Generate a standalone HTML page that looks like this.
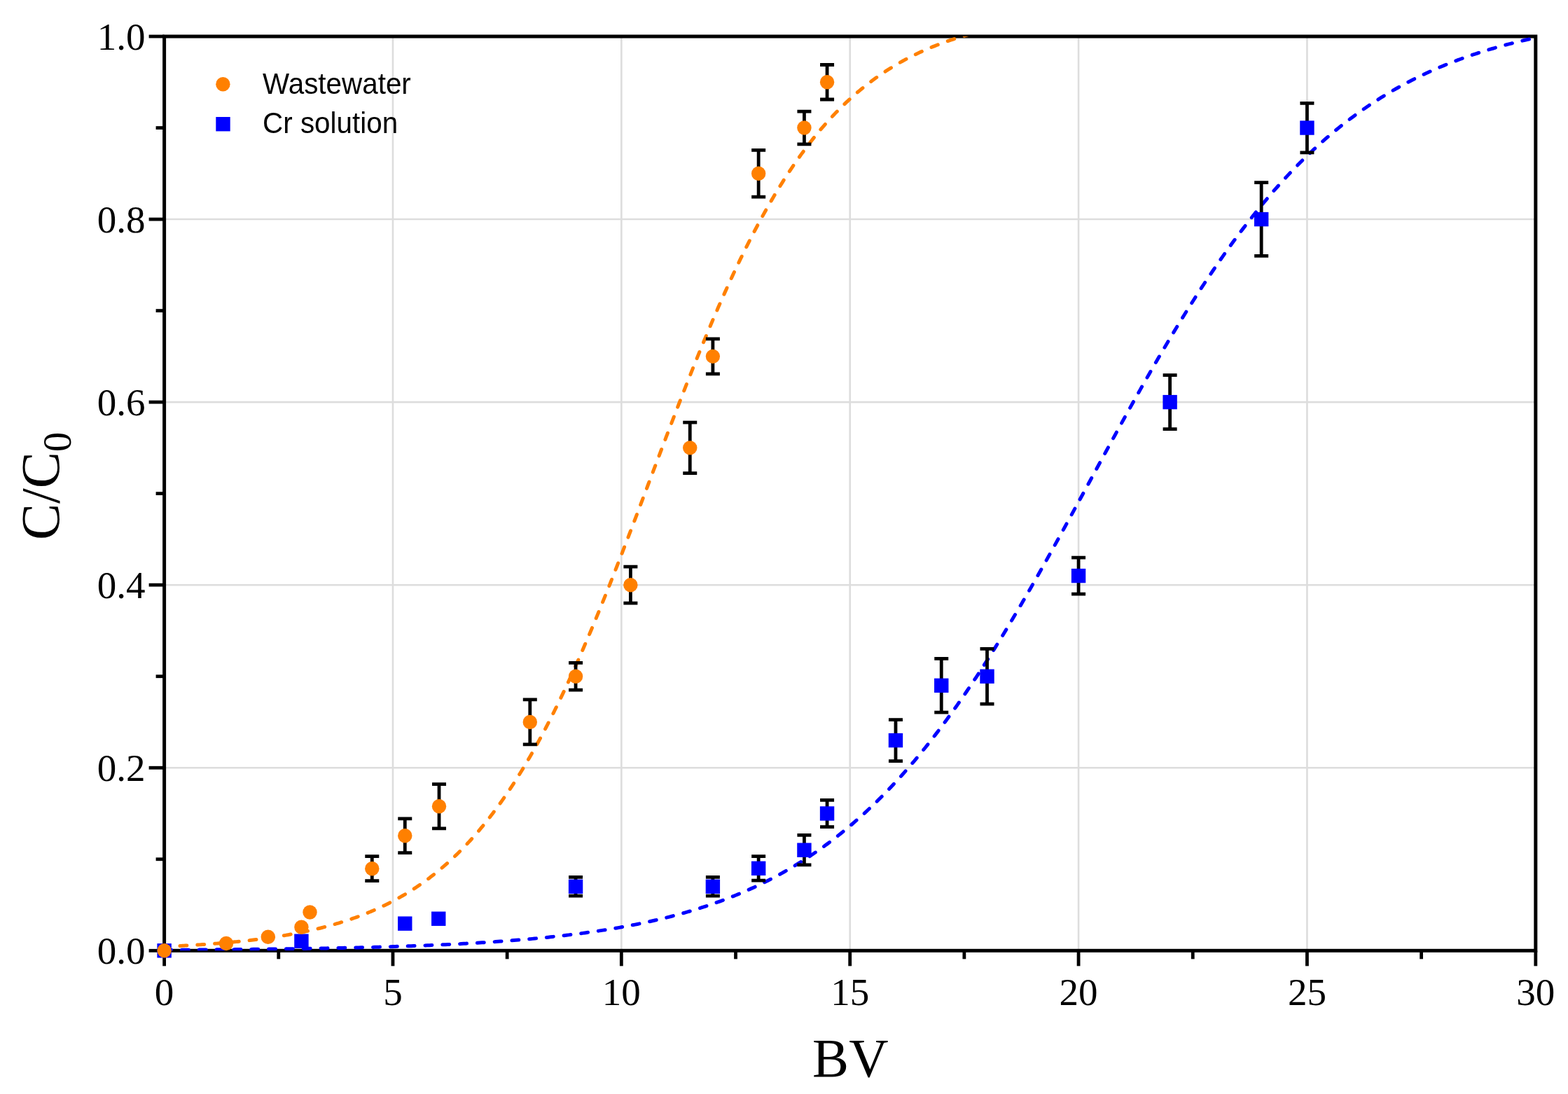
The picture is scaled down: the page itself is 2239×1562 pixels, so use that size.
<!DOCTYPE html>
<html lang="en"><head><meta charset="utf-8"><title>Breakthrough curves</title>
<style>
html,body{margin:0;padding:0;background:#fff;}
body{width:2239px;height:1562px;overflow:hidden;}
svg{display:block;}
.serif{font-family:"Liberation Serif","Times New Roman",Times,serif;}
.sans{font-family:"Liberation Sans",Arial,Helvetica,sans-serif;}
</style></head><body>
<svg width="2239" height="1562" viewBox="0 0 2239 1562">
<rect x="0" y="0" width="2239" height="1562" fill="#ffffff"/>
<defs><clipPath id="plot"><rect x="234.60" y="52.00" width="1958.20" height="1305.30"/></clipPath></defs>
<g stroke="#dddddd" stroke-width="2.60" fill="none">
<line x1="560.97" y1="52.00" x2="560.97" y2="1357.30"/>
<line x1="887.33" y1="52.00" x2="887.33" y2="1357.30"/>
<line x1="1213.70" y1="52.00" x2="1213.70" y2="1357.30"/>
<line x1="1540.07" y1="52.00" x2="1540.07" y2="1357.30"/>
<line x1="1866.43" y1="52.00" x2="1866.43" y2="1357.30"/>
<line x1="234.60" y1="1096.24" x2="2192.80" y2="1096.24"/>
<line x1="234.60" y1="835.18" x2="2192.80" y2="835.18"/>
<line x1="234.60" y1="574.12" x2="2192.80" y2="574.12"/>
<line x1="234.60" y1="313.06" x2="2192.80" y2="313.06"/>
</g>
<g stroke="#000" fill="none" stroke-linecap="butt">
<rect x="234.60" y="52.00" width="1958.20" height="1305.30" stroke-width="5.00"/>
<line x1="234.60" y1="1357.30" x2="234.60" y2="1379.30" stroke-width="4.80"/>
<line x1="397.78" y1="1357.30" x2="397.78" y2="1369.30" stroke-width="4.80"/>
<line x1="560.97" y1="1357.30" x2="560.97" y2="1379.30" stroke-width="4.80"/>
<line x1="724.15" y1="1357.30" x2="724.15" y2="1369.30" stroke-width="4.80"/>
<line x1="887.33" y1="1357.30" x2="887.33" y2="1379.30" stroke-width="4.80"/>
<line x1="1050.52" y1="1357.30" x2="1050.52" y2="1369.30" stroke-width="4.80"/>
<line x1="1213.70" y1="1357.30" x2="1213.70" y2="1379.30" stroke-width="4.80"/>
<line x1="1376.88" y1="1357.30" x2="1376.88" y2="1369.30" stroke-width="4.80"/>
<line x1="1540.07" y1="1357.30" x2="1540.07" y2="1379.30" stroke-width="4.80"/>
<line x1="1703.25" y1="1357.30" x2="1703.25" y2="1369.30" stroke-width="4.80"/>
<line x1="1866.43" y1="1357.30" x2="1866.43" y2="1379.30" stroke-width="4.80"/>
<line x1="2029.62" y1="1357.30" x2="2029.62" y2="1369.30" stroke-width="4.80"/>
<line x1="2192.80" y1="1357.30" x2="2192.80" y2="1379.30" stroke-width="4.80"/>
<line x1="234.60" y1="1357.30" x2="212.60" y2="1357.30" stroke-width="4.80"/>
<line x1="234.60" y1="1226.77" x2="222.60" y2="1226.77" stroke-width="4.80"/>
<line x1="234.60" y1="1096.24" x2="212.60" y2="1096.24" stroke-width="4.80"/>
<line x1="234.60" y1="965.71" x2="222.60" y2="965.71" stroke-width="4.80"/>
<line x1="234.60" y1="835.18" x2="212.60" y2="835.18" stroke-width="4.80"/>
<line x1="234.60" y1="704.65" x2="222.60" y2="704.65" stroke-width="4.80"/>
<line x1="234.60" y1="574.12" x2="212.60" y2="574.12" stroke-width="4.80"/>
<line x1="234.60" y1="443.59" x2="222.60" y2="443.59" stroke-width="4.80"/>
<line x1="234.60" y1="313.06" x2="212.60" y2="313.06" stroke-width="4.80"/>
<line x1="234.60" y1="182.53" x2="222.60" y2="182.53" stroke-width="4.80"/>
<line x1="234.60" y1="52.00" x2="212.60" y2="52.00" stroke-width="4.80"/>
</g>
<g fill="none" stroke-linecap="round" stroke-width="5.00" stroke-dasharray="9.93 14.9" stroke-dashoffset="0.00" clip-path="url(#plot)">
<path d="M234.60 1356.33 L237.86 1356.32 L241.13 1356.30 L244.39 1356.28 L247.65 1356.26 L250.92 1356.24 L254.18 1356.23 L257.45 1356.21 L260.71 1356.19 L263.97 1356.17 L267.24 1356.15 L270.50 1356.13 L273.76 1356.10 L277.03 1356.08 L280.29 1356.06 L283.56 1356.04 L286.82 1356.02 L290.08 1355.99 L293.35 1355.97 L296.61 1355.95 L299.87 1355.92 L303.14 1355.90 L306.40 1355.87 L309.66 1355.84 L312.93 1355.82 L316.19 1355.79 L319.46 1355.76 L322.72 1355.74 L325.98 1355.71 L329.25 1355.68 L332.51 1355.65 L335.77 1355.62 L339.04 1355.59 L342.30 1355.56 L345.56 1355.53 L348.83 1355.50 L352.09 1355.46 L355.36 1355.43 L358.62 1355.40 L361.88 1355.36 L365.15 1355.33 L368.41 1355.29 L371.67 1355.26 L374.94 1355.22 L378.20 1355.18 L381.47 1355.15 L384.73 1355.11 L387.99 1355.07 L391.26 1355.03 L394.52 1354.99 L397.78 1354.94 L401.05 1354.90 L404.31 1354.86 L407.57 1354.82 L410.84 1354.77 L414.10 1354.72 L417.37 1354.68 L420.63 1354.63 L423.89 1354.58 L427.16 1354.53 L430.42 1354.48 L433.68 1354.43 L436.95 1354.38 L440.21 1354.33 L443.47 1354.28 L446.74 1354.22 L450.00 1354.17 L453.27 1354.11 L456.53 1354.05 L459.79 1354.00 L463.06 1353.94 L466.32 1353.88 L469.58 1353.81 L472.85 1353.75 L476.11 1353.69 L479.38 1353.62 L482.64 1353.56 L485.90 1353.49 L489.17 1353.42 L492.43 1353.35 L495.69 1353.28 L498.96 1353.21 L502.22 1353.13 L505.48 1353.06 L508.75 1352.98 L512.01 1352.91 L515.28 1352.83 L518.54 1352.75 L521.80 1352.66 L525.07 1352.58 L528.33 1352.50 L531.59 1352.41 L534.86 1352.32 L538.12 1352.23 L541.38 1352.14 L544.65 1352.05 L547.91 1351.95 L551.18 1351.86 L554.44 1351.76 L557.70 1351.66 L560.97 1351.56 L564.23 1351.46 L567.49 1351.35 L570.76 1351.25 L574.02 1351.14 L577.29 1351.03 L580.55 1350.91 L583.81 1350.80 L587.08 1350.68 L590.34 1350.56 L593.60 1350.44 L596.87 1350.32 L600.13 1350.20 L603.39 1350.07 L606.66 1349.94 L609.92 1349.81 L613.19 1349.67 L616.45 1349.54 L619.71 1349.40 L622.98 1349.26 L626.24 1349.11 L629.50 1348.96 L632.77 1348.82 L636.03 1348.66 L639.29 1348.51 L642.56 1348.35 L645.82 1348.19 L649.09 1348.03 L652.35 1347.86 L655.61 1347.69 L658.88 1347.52 L662.14 1347.35 L665.40 1347.17 L668.67 1346.99 L671.93 1346.80 L675.20 1346.62 L678.46 1346.42 L681.72 1346.23 L684.99 1346.03 L688.25 1345.83 L691.51 1345.63 L694.78 1345.42 L698.04 1345.21 L701.30 1344.99 L704.57 1344.77 L707.83 1344.55 L711.10 1344.32 L714.36 1344.09 L717.62 1343.85 L720.89 1343.61 L724.15 1343.37 L727.41 1343.12 L730.68 1342.87 L733.94 1342.61 L737.20 1342.35 L740.47 1342.08 L743.73 1341.81 L747.00 1341.53 L750.26 1341.25 L753.52 1340.97 L756.79 1340.68 L760.05 1340.38 L763.31 1340.08 L766.58 1339.77 L769.84 1339.46 L773.11 1339.14 L776.37 1338.82 L779.63 1338.49 L782.90 1338.16 L786.16 1337.82 L789.42 1337.47 L792.69 1337.12 L795.95 1336.76 L799.21 1336.40 L802.48 1336.03 L805.74 1335.65 L809.01 1335.27 L812.27 1334.88 L815.53 1334.48 L818.80 1334.07 L822.06 1333.66 L825.32 1333.24 L828.59 1332.82 L831.85 1332.39 L835.11 1331.95 L838.38 1331.50 L841.64 1331.04 L844.91 1330.58 L848.17 1330.11 L851.43 1329.63 L854.70 1329.14 L857.96 1328.64 L861.22 1328.14 L864.49 1327.62 L867.75 1327.10 L871.02 1326.57 L874.28 1326.03 L877.54 1325.48 L880.81 1324.92 L884.07 1324.35 L887.33 1323.77 L890.60 1323.18 L893.86 1322.58 L897.12 1321.97 L900.39 1321.35 L903.65 1320.72 L906.92 1320.08 L910.18 1319.43 L913.44 1318.76 L916.71 1318.09 L919.97 1317.40 L923.23 1316.71 L926.50 1316.00 L929.76 1315.28 L933.02 1314.54 L936.29 1313.80 L939.55 1313.04 L942.82 1312.27 L946.08 1311.48 L949.34 1310.69 L952.61 1309.88 L955.87 1309.05 L959.13 1308.22 L962.40 1307.36 L965.66 1306.50 L968.93 1305.62 L972.19 1304.72 L975.45 1303.81 L978.72 1302.89 L981.98 1301.95 L985.24 1300.99 L988.51 1300.02 L991.77 1299.03 L995.03 1298.03 L998.30 1297.01 L1001.56 1295.97 L1004.83 1294.92 L1008.09 1293.85 L1011.35 1292.76 L1014.62 1291.65 L1017.88 1290.53 L1021.14 1289.38 L1024.41 1288.22 L1027.67 1287.04 L1030.93 1285.84 L1034.20 1284.63 L1037.46 1283.39 L1040.73 1282.13 L1043.99 1280.85 L1047.25 1279.56 L1050.52 1278.24 L1053.78 1276.90 L1057.04 1275.54 L1060.31 1274.15 L1063.57 1272.75 L1066.84 1271.32 L1070.10 1269.88 L1073.36 1268.40 L1076.63 1266.91 L1079.89 1265.39 L1083.15 1263.85 L1086.42 1262.29 L1089.68 1260.70 L1092.94 1259.08 L1096.21 1257.44 L1099.47 1255.78 L1102.74 1254.09 L1106.00 1252.38 L1109.26 1250.64 L1112.53 1248.87 L1115.79 1247.07 L1119.05 1245.25 L1122.32 1243.41 L1125.58 1241.53 L1128.84 1239.63 L1132.11 1237.69 L1135.37 1235.73 L1138.64 1233.74 L1141.90 1231.73 L1145.16 1229.68 L1148.43 1227.60 L1151.69 1225.49 L1154.95 1223.35 L1158.22 1221.18 L1161.48 1218.98 L1164.75 1216.75 L1168.01 1214.49 L1171.27 1212.19 L1174.54 1209.86 L1177.80 1207.50 L1181.06 1205.11 L1184.33 1202.68 L1187.59 1200.22 L1190.85 1197.72 L1194.12 1195.20 L1197.38 1192.63 L1200.65 1190.03 L1203.91 1187.40 L1207.17 1184.73 L1210.44 1182.03 L1213.70 1179.29 L1216.96 1176.51 L1220.23 1173.70 L1223.49 1170.85 L1226.75 1167.96 L1230.02 1165.04 L1233.28 1162.08 L1236.55 1159.08 L1239.81 1156.04 L1243.07 1152.96 L1246.34 1149.85 L1249.60 1146.70 L1252.86 1143.50 L1256.13 1140.27 L1259.39 1137.00 L1262.65 1133.69 L1265.92 1130.35 L1269.18 1126.96 L1272.45 1123.53 L1275.71 1120.06 L1278.97 1116.55 L1282.24 1113.00 L1285.50 1109.41 L1288.76 1105.78 L1292.03 1102.10 L1295.29 1098.39 L1298.56 1094.64 L1301.82 1090.84 L1305.08 1087.01 L1308.35 1083.13 L1311.61 1079.21 L1314.87 1075.25 L1318.14 1071.25 L1321.40 1067.21 L1324.66 1063.12 L1327.93 1059.00 L1331.19 1054.83 L1334.46 1050.63 L1337.72 1046.38 L1340.98 1042.09 L1344.25 1037.76 L1347.51 1033.39 L1350.77 1028.98 L1354.04 1024.53 L1357.30 1020.04 L1360.57 1015.50 L1363.83 1010.93 L1367.09 1006.32 L1370.36 1001.67 L1373.62 996.98 L1376.88 992.25 L1380.15 987.48 L1383.41 982.67 L1386.67 977.83 L1389.94 972.95 L1393.20 968.03 L1396.47 963.07 L1399.73 958.08 L1402.99 953.05 L1406.26 947.98 L1409.52 942.88 L1412.78 937.74 L1416.05 932.57 L1419.31 927.37 L1422.57 922.13 L1425.84 916.85 L1429.10 911.55 L1432.37 906.21 L1435.63 900.85 L1438.89 895.45 L1442.16 890.02 L1445.42 884.56 L1448.68 879.07 L1451.95 873.56 L1455.21 868.01 L1458.48 862.44 L1461.74 856.85 L1465.00 851.23 L1468.27 845.58 L1471.53 839.91 L1474.79 834.21 L1478.06 828.50 L1481.32 822.76 L1484.58 817.00 L1487.85 811.22 L1491.11 805.42 L1494.38 799.60 L1497.64 793.77 L1500.90 787.91 L1504.17 782.05 L1507.43 776.16 L1510.69 770.27 L1513.96 764.36 L1517.22 758.43 L1520.48 752.50 L1523.75 746.55 L1527.01 740.60 L1530.28 734.63 L1533.54 728.66 L1536.80 722.68 L1540.07 716.70 L1543.33 710.71 L1546.59 704.72 L1549.86 698.72 L1553.12 692.72 L1556.38 686.73 L1559.65 680.73 L1562.91 674.73 L1566.18 668.73 L1569.44 662.74 L1572.70 656.74 L1575.97 650.76 L1579.23 644.78 L1582.49 638.80 L1585.76 632.84 L1589.02 626.88 L1592.29 620.93 L1595.55 614.99 L1598.81 609.06 L1602.08 603.15 L1605.34 597.24 L1608.60 591.36 L1611.87 585.48 L1615.13 579.62 L1618.39 573.78 L1621.66 567.96 L1624.92 562.15 L1628.19 556.36 L1631.45 550.59 L1634.71 544.85 L1637.98 539.12 L1641.24 533.42 L1644.50 527.74 L1647.77 522.08 L1651.03 516.45 L1654.30 510.84 L1657.56 505.26 L1660.82 499.71 L1664.09 494.18 L1667.35 488.68 L1670.61 483.21 L1673.88 477.77 L1677.14 472.36 L1680.40 466.98 L1683.67 461.63 L1686.93 456.31 L1690.20 451.03 L1693.46 445.78 L1696.72 440.56 L1699.99 435.37 L1703.25 430.22 L1706.51 425.11 L1709.78 420.03 L1713.04 414.98 L1716.30 409.97 L1719.57 405.00 L1722.83 400.07 L1726.10 395.17 L1729.36 390.31 L1732.62 385.49 L1735.89 380.70 L1739.15 375.96 L1742.41 371.25 L1745.68 366.59 L1748.94 361.96 L1752.21 357.37 L1755.47 352.82 L1758.73 348.32 L1762.00 343.85 L1765.26 339.42 L1768.52 335.03 L1771.79 330.69 L1775.05 326.38 L1778.31 322.12 L1781.58 317.89 L1784.84 313.71 L1788.11 309.57 L1791.37 305.47 L1794.63 301.41 L1797.90 297.39 L1801.16 293.42 L1804.42 289.48 L1807.69 285.59 L1810.95 281.74 L1814.21 277.93 L1817.48 274.16 L1820.74 270.43 L1824.01 266.74 L1827.27 263.09 L1830.53 259.48 L1833.80 255.92 L1837.06 252.39 L1840.32 248.91 L1843.59 245.46 L1846.85 242.06 L1850.12 238.69 L1853.38 235.37 L1856.64 232.08 L1859.91 228.83 L1863.17 225.63 L1866.43 222.46 L1869.70 219.33 L1872.96 216.24 L1876.22 213.19 L1879.49 210.17 L1882.75 207.19 L1886.02 204.25 L1889.28 201.35 L1892.54 198.49 L1895.81 195.66 L1899.07 192.87 L1902.33 190.12 L1905.60 187.40 L1908.86 184.71 L1912.12 182.07 L1915.39 179.45 L1918.65 176.88 L1921.92 174.33 L1925.18 171.83 L1928.44 169.35 L1931.71 166.91 L1934.97 164.50 L1938.23 162.13 L1941.50 159.79 L1944.76 157.48 L1948.03 155.20 L1951.29 152.96 L1954.55 150.74 L1957.82 148.56 L1961.08 146.41 L1964.34 144.29 L1967.61 142.20 L1970.87 140.14 L1974.13 138.11 L1977.40 136.11 L1980.66 134.14 L1983.93 132.19 L1987.19 130.28 L1990.45 128.39 L1993.72 126.53 L1996.98 124.70 L2000.24 122.90 L2003.51 121.12 L2006.77 119.37 L2010.03 117.64 L2013.30 115.94 L2016.56 114.27 L2019.83 112.62 L2023.09 111.00 L2026.35 109.40 L2029.62 107.82 L2032.88 106.27 L2036.14 104.75 L2039.41 103.24 L2042.67 101.76 L2045.94 100.30 L2049.20 98.87 L2052.46 97.46 L2055.73 96.06 L2058.99 94.69 L2062.25 93.35 L2065.52 92.02 L2068.78 90.71 L2072.04 89.43 L2075.31 88.16 L2078.57 86.92 L2081.84 85.69 L2085.10 84.48 L2088.36 83.30 L2091.63 82.13 L2094.89 80.98 L2098.15 79.85 L2101.42 78.73 L2104.68 77.64 L2107.94 76.56 L2111.21 75.50 L2114.47 74.45 L2117.74 73.43 L2121.00 72.42 L2124.26 71.42 L2127.53 70.45 L2130.79 69.48 L2134.05 68.54 L2137.32 67.61 L2140.58 66.69 L2143.85 65.79 L2147.11 64.90 L2150.37 64.03 L2153.64 63.17 L2156.90 62.33 L2160.16 61.50 L2163.43 60.69 L2166.69 59.88 L2169.95 59.09 L2173.22 58.32 L2176.48 57.55 L2179.75 56.80 L2183.01 56.07 L2186.27 55.34 L2189.54 54.63 L2192.80 53.92" stroke="#0000ff"/>
<path d="M234.60 1351.62 L236.61 1351.53 L238.63 1351.44 L240.64 1351.35 L242.65 1351.25 L244.66 1351.16 L246.68 1351.06 L248.69 1350.96 L250.70 1350.86 L252.71 1350.76 L254.73 1350.65 L256.74 1350.55 L258.75 1350.44 L260.76 1350.33 L262.78 1350.22 L264.79 1350.11 L266.80 1349.99 L268.81 1349.88 L270.83 1349.76 L272.84 1349.64 L274.85 1349.52 L276.86 1349.39 L278.88 1349.27 L280.89 1349.14 L282.90 1349.01 L284.91 1348.88 L286.93 1348.74 L288.94 1348.61 L290.95 1348.47 L292.97 1348.33 L294.98 1348.19 L296.99 1348.04 L299.00 1347.90 L301.02 1347.75 L303.03 1347.60 L305.04 1347.44 L307.05 1347.29 L309.07 1347.13 L311.08 1346.97 L313.09 1346.80 L315.10 1346.63 L317.12 1346.47 L319.13 1346.29 L321.14 1346.12 L323.15 1345.94 L325.17 1345.76 L327.18 1345.58 L329.19 1345.39 L331.20 1345.21 L333.22 1345.01 L335.23 1344.82 L337.24 1344.62 L339.25 1344.42 L341.27 1344.22 L343.28 1344.01 L345.29 1343.80 L347.31 1343.59 L349.32 1343.37 L351.33 1343.15 L353.34 1342.93 L355.36 1342.70 L357.37 1342.47 L359.38 1342.23 L361.39 1342.00 L363.41 1341.75 L365.42 1341.51 L367.43 1341.26 L369.44 1341.01 L371.46 1340.75 L373.47 1340.49 L375.48 1340.22 L377.49 1339.95 L379.51 1339.68 L381.52 1339.40 L383.53 1339.12 L385.54 1338.83 L387.56 1338.54 L389.57 1338.25 L391.58 1337.95 L393.59 1337.64 L395.61 1337.33 L397.62 1337.02 L399.63 1336.70 L401.65 1336.37 L403.66 1336.04 L405.67 1335.71 L407.68 1335.37 L409.70 1335.03 L411.71 1334.68 L413.72 1334.32 L415.73 1333.96 L417.75 1333.59 L419.76 1333.22 L421.77 1332.84 L423.78 1332.46 L425.80 1332.07 L427.81 1331.68 L429.82 1331.27 L431.83 1330.87 L433.85 1330.45 L435.86 1330.03 L437.87 1329.60 L439.88 1329.17 L441.90 1328.73 L443.91 1328.28 L445.92 1327.83 L447.94 1327.37 L449.95 1326.90 L451.96 1326.43 L453.97 1325.95 L455.99 1325.46 L458.00 1324.96 L460.01 1324.46 L462.02 1323.94 L464.04 1323.43 L466.05 1322.90 L468.06 1322.36 L470.07 1321.82 L472.09 1321.27 L474.10 1320.71 L476.11 1320.14 L478.12 1319.56 L480.14 1318.97 L482.15 1318.38 L484.16 1317.78 L486.17 1317.16 L488.19 1316.54 L490.20 1315.91 L492.21 1315.27 L494.22 1314.62 L496.24 1313.96 L498.25 1313.29 L500.26 1312.61 L502.28 1311.92 L504.29 1311.22 L506.30 1310.51 L508.31 1309.79 L510.33 1309.05 L512.34 1308.31 L514.35 1307.56 L516.36 1306.79 L518.38 1306.02 L520.39 1305.23 L522.40 1304.43 L524.41 1303.62 L526.43 1302.79 L528.44 1301.96 L530.45 1301.11 L532.46 1300.25 L534.48 1299.38 L536.49 1298.49 L538.50 1297.60 L540.51 1296.69 L542.53 1295.76 L544.54 1294.82 L546.55 1293.87 L548.56 1292.91 L550.58 1291.93 L552.59 1290.94 L554.60 1289.93 L556.62 1288.91 L558.63 1287.87 L560.64 1286.82 L562.65 1285.75 L564.67 1284.67 L566.68 1283.57 L568.69 1282.46 L570.70 1281.33 L572.72 1280.19 L574.73 1279.03 L576.74 1277.85 L578.75 1276.66 L580.77 1275.45 L582.78 1274.22 L584.79 1272.97 L586.80 1271.71 L588.82 1270.43 L590.83 1269.14 L592.84 1267.82 L594.85 1266.49 L596.87 1265.14 L598.88 1263.77 L600.89 1262.38 L602.90 1260.97 L604.92 1259.54 L606.93 1258.09 L608.94 1256.63 L610.96 1255.14 L612.97 1253.63 L614.98 1252.11 L616.99 1250.56 L619.01 1248.99 L621.02 1247.40 L623.03 1245.79 L625.04 1244.16 L627.06 1242.51 L629.07 1240.83 L631.08 1239.13 L633.09 1237.41 L635.11 1235.67 L637.12 1233.90 L639.13 1232.12 L641.14 1230.30 L643.16 1228.47 L645.17 1226.61 L647.18 1224.73 L649.19 1222.82 L651.21 1220.89 L653.22 1218.93 L655.23 1216.95 L657.24 1214.95 L659.26 1212.92 L661.27 1210.86 L663.28 1208.78 L665.30 1206.67 L667.31 1204.54 L669.32 1202.38 L671.33 1200.19 L673.35 1197.98 L675.36 1195.74 L677.37 1193.47 L679.38 1191.18 L681.40 1188.86 L683.41 1186.51 L685.42 1184.13 L687.43 1181.72 L689.45 1179.29 L691.46 1176.83 L693.47 1174.33 L695.48 1171.81 L697.50 1169.26 L699.51 1166.69 L701.52 1164.08 L703.53 1161.44 L705.55 1158.77 L707.56 1156.07 L709.57 1153.35 L711.58 1150.59 L713.60 1147.80 L715.61 1144.98 L717.62 1142.13 L719.64 1139.25 L721.65 1136.34 L723.66 1133.39 L725.67 1130.42 L727.69 1127.42 L729.70 1124.38 L731.71 1121.31 L733.72 1118.21 L735.74 1115.08 L737.75 1111.91 L739.76 1108.72 L741.77 1105.49 L743.79 1102.23 L745.80 1098.93 L747.81 1095.61 L749.82 1092.25 L751.84 1088.86 L753.85 1085.44 L755.86 1081.98 L757.87 1078.50 L759.89 1074.98 L761.90 1071.43 L763.91 1067.84 L765.92 1064.22 L767.94 1060.57 L769.95 1056.89 L771.96 1053.18 L773.98 1049.43 L775.99 1045.65 L778.00 1041.84 L780.01 1038.00 L782.03 1034.12 L784.04 1030.21 L786.05 1026.27 L788.06 1022.30 L790.08 1018.30 L792.09 1014.26 L794.10 1010.20 L796.11 1006.10 L798.13 1001.97 L800.14 997.81 L802.15 993.62 L804.16 989.40 L806.18 985.15 L808.19 980.86 L810.20 976.55 L812.21 972.21 L814.23 967.84 L816.24 963.44 L818.25 959.01 L820.26 954.55 L822.28 950.07 L824.29 945.55 L826.30 941.01 L828.32 936.44 L830.33 931.84 L832.34 927.22 L834.35 922.57 L836.37 917.89 L838.38 913.19 L840.39 908.46 L842.40 903.71 L844.42 898.93 L846.43 894.13 L848.44 889.31 L850.45 884.46 L852.47 879.59 L854.48 874.70 L856.49 869.78 L858.50 864.85 L860.52 859.89 L862.53 854.91 L864.54 849.91 L866.55 844.89 L868.57 839.86 L870.58 834.80 L872.59 829.73 L874.61 824.64 L876.62 819.53 L878.63 814.41 L880.64 809.27 L882.66 804.12 L884.67 798.95 L886.68 793.77 L888.69 788.57 L890.71 783.37 L892.72 778.15 L894.73 772.91 L896.74 767.67 L898.76 762.42 L900.77 757.16 L902.78 751.89 L904.79 746.61 L906.81 741.32 L908.82 736.03 L910.83 730.73 L912.84 725.42 L914.86 720.11 L916.87 714.79 L918.88 709.47 L920.89 704.15 L922.91 698.83 L924.92 693.50 L926.93 688.17 L928.95 682.85 L930.96 677.52 L932.97 672.19 L934.98 666.87 L937.00 661.54 L939.01 656.23 L941.02 650.91 L943.03 645.60 L945.05 640.29 L947.06 634.99 L949.07 629.70 L951.08 624.41 L953.10 619.13 L955.11 613.86 L957.12 608.59 L959.13 603.34 L961.15 598.10 L963.16 592.86 L965.17 587.64 L967.18 582.43 L969.20 577.24 L971.21 572.05 L973.22 566.88 L975.23 561.73 L977.25 556.59 L979.26 551.46 L981.27 546.35 L983.29 541.26 L985.30 536.19 L987.31 531.13 L989.32 526.09 L991.34 521.07 L993.35 516.07 L995.36 511.09 L997.37 506.13 L999.39 501.20 L1001.40 496.28 L1003.41 491.38 L1005.42 486.51 L1007.44 481.66 L1009.45 476.83 L1011.46 472.03 L1013.47 467.25 L1015.49 462.49 L1017.50 457.76 L1019.51 453.06 L1021.52 448.38 L1023.54 443.73 L1025.55 439.10 L1027.56 434.50 L1029.57 429.93 L1031.59 425.38 L1033.60 420.87 L1035.61 416.38 L1037.63 411.92 L1039.64 407.48 L1041.65 403.08 L1043.66 398.71 L1045.68 394.36 L1047.69 390.05 L1049.70 385.76 L1051.71 381.51 L1053.73 377.28 L1055.74 373.09 L1057.75 368.93 L1059.76 364.79 L1061.78 360.69 L1063.79 356.62 L1065.80 352.59 L1067.81 348.58 L1069.83 344.60 L1071.84 340.66 L1073.85 336.75 L1075.86 332.87 L1077.88 329.02 L1079.89 325.21 L1081.90 321.43 L1083.91 317.67 L1085.93 313.96 L1087.94 310.27 L1089.95 306.62 L1091.97 303.00 L1093.98 299.41 L1095.99 295.85 L1098.00 292.33 L1100.02 288.84 L1102.03 285.38 L1104.04 281.96 L1106.05 278.56 L1108.07 275.20 L1110.08 271.87 L1112.09 268.58 L1114.10 265.31 L1116.12 262.08 L1118.13 258.88 L1120.14 255.72 L1122.15 252.58 L1124.17 249.48 L1126.18 246.40 L1128.19 243.36 L1130.20 240.35 L1132.22 237.38 L1134.23 234.43 L1136.24 231.52 L1138.25 228.63 L1140.27 225.78 L1142.28 222.96 L1144.29 220.16 L1146.31 217.40 L1148.32 214.67 L1150.33 211.97 L1152.34 209.30 L1154.36 206.66 L1156.37 204.05 L1158.38 201.47 L1160.39 198.91 L1162.41 196.39 L1164.42 193.89 L1166.43 191.43 L1168.44 188.99 L1170.46 186.58 L1172.47 184.20 L1174.48 181.85 L1176.49 179.52 L1178.51 177.23 L1180.52 174.96 L1182.53 172.71 L1184.54 170.50 L1186.56 168.31 L1188.57 166.15 L1190.58 164.01 L1192.59 161.90 L1194.61 159.82 L1196.62 157.76 L1198.63 155.72 L1200.65 153.72 L1202.66 151.73 L1204.67 149.77 L1206.68 147.84 L1208.70 145.93 L1210.71 144.05 L1212.72 142.19 L1214.73 140.35 L1216.75 138.53 L1218.76 136.74 L1220.77 134.98 L1222.78 133.23 L1224.80 131.51 L1226.81 129.81 L1228.82 128.13 L1230.83 126.47 L1232.85 124.84 L1234.86 123.23 L1236.87 121.64 L1238.88 120.07 L1240.90 118.52 L1242.91 116.99 L1244.92 115.48 L1246.94 113.99 L1248.95 112.52 L1250.96 111.07 L1252.97 109.64 L1254.99 108.23 L1257.00 106.84 L1259.01 105.47 L1261.02 104.11 L1263.04 102.78 L1265.05 101.46 L1267.06 100.16 L1269.07 98.88 L1271.09 97.62 L1273.10 96.37 L1275.11 95.14 L1277.12 93.93 L1279.14 92.74 L1281.15 91.56 L1283.16 90.39 L1285.17 89.25 L1287.19 88.12 L1289.20 87.00 L1291.21 85.91 L1293.22 84.82 L1295.24 83.75 L1297.25 82.70 L1299.26 81.66 L1301.28 80.64 L1303.29 79.63 L1305.30 78.64 L1307.31 77.66 L1309.33 76.69 L1311.34 75.74 L1313.35 74.80 L1315.36 73.87 L1317.38 72.96 L1319.39 72.06 L1321.40 71.17 L1323.41 70.30 L1325.43 69.44 L1327.44 68.59 L1329.45 67.75 L1331.46 66.93 L1333.48 66.12 L1335.49 65.32 L1337.50 64.53 L1339.51 63.75 L1341.53 62.98 L1343.54 62.23 L1345.55 61.48 L1347.56 60.75 L1349.58 60.03 L1351.59 59.32 L1353.60 58.62 L1355.62 57.92 L1357.63 57.24 L1359.64 56.57 L1361.65 55.91 L1363.67 55.26 L1365.68 54.62 L1367.69 53.99 L1369.70 53.36 L1371.72 52.75 L1373.73 52.14 L1375.74 51.55 L1377.75 50.96 L1379.77 50.38 L1381.78 49.81 L1383.79 49.25 L1385.80 48.70 L1387.82 48.16 L1389.83 47.62 L1391.84 47.09 L1393.85 46.57 L1395.87 46.06 L1397.88 45.55 L1399.89 45.06 L1401.90 44.57 L1403.92 44.08 L1405.93 43.61 L1407.94 43.14 L1409.96 42.68 L1411.97 42.22 L1413.98 41.78 L1415.99 41.34 L1418.01 40.90 L1420.02 40.47 L1422.03 40.05 L1424.04 39.64 L1426.06 39.23 L1428.07 38.83 L1430.08 38.43 L1432.09 38.04 L1434.11 37.66 L1436.12 37.28 L1438.13 36.91 L1440.14 36.54 L1442.16 36.18" stroke="#ff8000" stroke-dasharray="9.95 14.92" stroke-dashoffset="2.5"/>
</g>
<g stroke="#000" stroke-width="4.80" fill="none">
<path d="M822.06 1252.40V1279.20M812.06 1252.40H832.06M812.06 1279.20H832.06"/>
<path d="M1017.88 1252.40V1279.20M1007.88 1252.40H1027.88M1007.88 1279.20H1027.88"/>
<path d="M1083.15 1222.57V1257.07M1073.15 1222.57H1093.15M1073.15 1257.07H1093.15"/>
<path d="M1148.43 1192.47V1234.97M1138.43 1192.47H1158.43M1138.43 1234.97H1158.43"/>
<path d="M1181.06 1142.40V1180.60M1171.06 1142.40H1191.06M1171.06 1180.60H1191.06"/>
<path d="M1278.97 1027.58V1086.58M1268.97 1027.58H1288.97M1268.97 1086.58H1288.97"/>
<path d="M1344.25 940.46V1017.06M1334.25 940.46H1354.25M1334.25 1017.06H1354.25"/>
<path d="M1409.52 926.31V1005.11M1399.52 926.31H1419.52M1399.52 1005.11H1419.52"/>
<path d="M1540.07 796.13V848.13M1530.07 796.13H1550.07M1530.07 848.13H1550.07"/>
<path d="M1670.61 535.62V612.62M1660.61 535.62H1680.61M1660.61 612.62H1680.61"/>
<path d="M1801.16 260.66V365.46M1791.16 260.66H1811.16M1791.16 365.46H1811.16"/>
<path d="M1866.43 147.28V217.78M1856.43 147.28H1876.43M1856.43 217.78H1876.43"/>
</g>
<g fill="#0000ff">
<rect x="224.40" y="1347.10" width="20.40" height="20.40"/>
<rect x="420.22" y="1333.52" width="20.40" height="20.40"/>
<rect x="568.06" y="1308.46" width="20.40" height="20.40"/>
<rect x="616.04" y="1301.55" width="20.40" height="20.40"/>
<rect x="811.86" y="1255.60" width="20.40" height="20.40"/>
<rect x="1007.68" y="1255.60" width="20.40" height="20.40"/>
<rect x="1072.95" y="1229.62" width="20.40" height="20.40"/>
<rect x="1138.23" y="1203.52" width="20.40" height="20.40"/>
<rect x="1170.86" y="1151.30" width="20.40" height="20.40"/>
<rect x="1268.77" y="1046.88" width="20.40" height="20.40"/>
<rect x="1334.05" y="968.56" width="20.40" height="20.40"/>
<rect x="1399.32" y="955.51" width="20.40" height="20.40"/>
<rect x="1529.87" y="811.93" width="20.40" height="20.40"/>
<rect x="1660.41" y="563.92" width="20.40" height="20.40"/>
<rect x="1790.96" y="302.86" width="20.40" height="20.40"/>
<rect x="1856.23" y="172.33" width="20.40" height="20.40"/>
</g>
<g stroke="#000" stroke-width="4.80" fill="none">
<path d="M531.27 1222.71V1257.71M521.27 1222.71H541.27M521.27 1257.71H541.27"/>
<path d="M578.26 1168.82V1217.62M568.26 1168.82H588.26M568.26 1217.62H588.26"/>
<path d="M627.02 1119.72V1182.92M617.02 1119.72H637.02M617.02 1182.92H637.02"/>
<path d="M756.79 998.97V1062.97M746.79 998.97H766.79M746.79 1062.97H766.79"/>
<path d="M822.06 946.31V985.11M812.06 946.31H832.06M812.06 985.11H832.06"/>
<path d="M900.39 809.18V861.18M890.39 809.18H910.39M890.39 861.18H910.39"/>
<path d="M985.24 603.18V675.58M975.24 603.18H995.24M975.24 675.58H995.24"/>
<path d="M1017.88 483.85V533.85M1007.88 483.85H1027.88M1007.88 533.85H1027.88"/>
<path d="M1083.15 214.40V281.20M1073.15 214.40H1093.15M1073.15 281.20H1093.15"/>
<path d="M1148.43 159.13V205.93M1138.43 159.13H1158.43M1138.43 205.93H1158.43"/>
<path d="M1181.06 92.52V142.02M1171.06 92.52H1191.06M1171.06 142.02H1191.06"/>
</g>
<g fill="#ff8000">
<circle cx="234.60" cy="1357.30" r="10.20"/>
<circle cx="322.98" cy="1346.99" r="10.20"/>
<circle cx="382.77" cy="1337.72" r="10.20"/>
<circle cx="430.42" cy="1323.75" r="10.20"/>
<circle cx="442.50" cy="1302.48" r="10.20"/>
<circle cx="531.27" cy="1240.21" r="10.20"/>
<circle cx="578.26" cy="1193.22" r="10.20"/>
<circle cx="627.02" cy="1151.32" r="10.20"/>
<circle cx="756.79" cy="1030.97" r="10.20"/>
<circle cx="822.06" cy="965.71" r="10.20"/>
<circle cx="900.39" cy="835.18" r="10.20"/>
<circle cx="985.24" cy="639.38" r="10.20"/>
<circle cx="1017.88" cy="508.85" r="10.20"/>
<circle cx="1083.15" cy="247.80" r="10.20"/>
<circle cx="1148.43" cy="182.53" r="10.20"/>
<circle cx="1181.06" cy="117.27" r="10.20"/>
</g>
<circle cx="318.4" cy="120.2" r="10.20" fill="#ff8000"/>
<rect x="308.30" y="167.00" width="20.40" height="20.40" fill="#0000ff"/>
<g class="sans" font-size="42" fill="#000">
<text transform="translate(375.1 133.9) scale(0.962 1)">Wastewater</text>
<text transform="translate(375.1 190.3) scale(0.962 1)">Cr solution</text>
</g>
<g class="serif" font-size="55" fill="#000" text-anchor="middle">
<text x="234.60" y="1435.3">0</text>
<text x="560.97" y="1435.3">5</text>
<text x="887.33" y="1435.3">10</text>
<text x="1213.70" y="1435.3">15</text>
<text x="1540.07" y="1435.3">20</text>
<text x="1866.43" y="1435.3">25</text>
<text x="2192.80" y="1435.3">30</text>
</g>
<g class="serif" font-size="55" fill="#000" text-anchor="end">
<text x="207.5" y="1376.10">0.0</text>
<text x="207.5" y="1115.04">0.2</text>
<text x="207.5" y="853.98">0.4</text>
<text x="207.5" y="592.92">0.6</text>
<text x="207.5" y="331.86">0.8</text>
<text x="207.5" y="70.80">1.0</text>
</g>
<text class="serif" font-size="78" fill="#000" text-anchor="middle" x="1214.3" y="1536.9">BV</text>
<text class="serif" font-size="78" fill="#000" transform="translate(84 771) rotate(-90)">C/C<tspan font-size="57" dy="17">0</tspan></text>
</svg>
</body></html>
